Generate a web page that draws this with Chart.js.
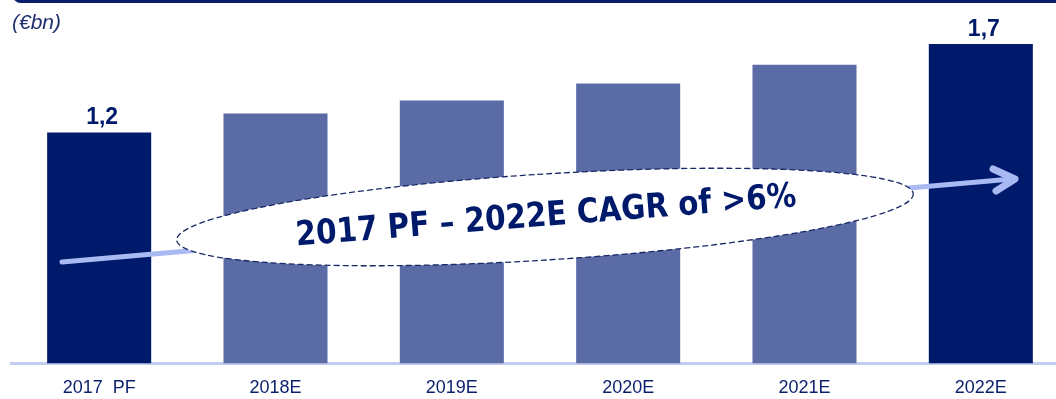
<!DOCTYPE html>
<html>
<head>
<meta charset="utf-8">
<script src="https://cdn.jsdelivr.net/npm/chart.js@4/dist/chart.umd.min.js"></script>
<style>
    body { margin: 0; background: #fff; }
    #wrap { width: 1056px; height: 399px; overflow: hidden; position: relative; }
    canvas { display: block; }
</style>
</head>
<body>
<div id="wrap">
    <canvas id="revenue-chart" width="1080" height="399"></canvas>
</div>
<script>
const categories = ['2017  PF', '2018E', '2019E', '2020E', '2021E', '2022E']
const revenue = [1.23, 1.33, 1.40, 1.49, 1.59, 1.70]
const valueLabels = ['1,2', '', '', '', '', '1,7']
const highlighted = [true, false, false, false, false, true]
const unitLabel = '(€bn)'
const cagrText = '2017 PF – 2022E CAGR of >6%'

const navy = '#001a6b'
const lightBar = '#5b6ba5'

// header rule, unit, value labels, and the CAGR arrow + ellipse
const decorations = {
    id: 'decorations',
    afterDatasetsDraw(chart) {
        const ctx = chart.ctx
        const meta = chart.getDatasetMeta(0)

        ctx.save()
        // value labels above bars
        ctx.fillStyle = navy
        ctx.font = 'bold 23px "Liberation Sans", Arial, sans-serif'
        ctx.textAlign = 'center'
        ctx.textBaseline = 'alphabetic'
        meta.data.forEach(function (bar, i) {
            if (valueLabels[i]) {
                ctx.fillText(valueLabels[i], bar.x + 3, bar.y - 8)
            }
        })

        // arrow
        ctx.strokeStyle = '#a9b9f4'
        ctx.lineCap = 'round'
        ctx.lineJoin = 'round'
        ctx.lineWidth = 5
        ctx.beginPath()
        ctx.moveTo(62, 262)
        ctx.lineTo(1012, 179)
        ctx.stroke()
        ctx.lineWidth = 7
        ctx.beginPath()
        ctx.moveTo(993, 169)
        ctx.lineTo(1015, 179)
        ctx.lineTo(996, 191)
        ctx.stroke()

        // ellipse
        ctx.beginPath()
        ctx.ellipse(545, 217, 369, 43, -3.6 * Math.PI / 180, 0, Math.PI * 2)
        ctx.fillStyle = '#ffffff'
        ctx.fill()
        ctx.setLineDash([5, 4])
        ctx.lineWidth = 1.3
        ctx.strokeStyle = '#1a2a66'
        ctx.stroke()
        ctx.setLineDash([])

        // CAGR text
        ctx.translate(546, 217)
        ctx.rotate(-4.5 * Math.PI / 180)
        ctx.font = 'bold 34px "DejaVu Sans", Verdana, sans-serif'
        const w = ctx.measureText(cagrText).width
        ctx.scale(502 / w, 1)
        ctx.fillStyle = navy
        ctx.textAlign = 'center'
        ctx.textBaseline = 'middle'
        ctx.fillText(cagrText, 0, 0)
        ctx.restore()

        // header rule and unit
        ctx.save()
        ctx.fillStyle = '#0a1e6e'
        ctx.beginPath()
        ctx.roundRect(13, -12, 1100, 15, 9)
        ctx.fill()
        ctx.fillStyle = '#1f2f70'
        ctx.font = 'italic 21px "Liberation Sans", Arial, sans-serif'
        ctx.textAlign = 'left'
        ctx.textBaseline = 'alphabetic'
        ctx.fillText(unitLabel, 12, 29)
        ctx.restore()
    }
}

window.addEventListener('load', function () {
    const canvas = document.getElementById('revenue-chart')
    new Chart(canvas, {
        type: 'bar',
        data: {
            labels: categories,
            datasets: [{
                label: 'Revenue',
                data: revenue,
                backgroundColor: highlighted.map(h => h ? navy : lightBar),
                borderWidth: 0,
                categoryPercentage: 1,
                barPercentage: 0.59
            }]
        },
        options: {
            responsive: false,
            devicePixelRatio: 1,
            animation: false,
            layout: {
                padding: { left: 11, right: 11, top: 6.5, bottom: 0 }
            },
            plugins: {
                legend: { display: false },
                tooltip: { enabled: false }
            },
            scales: {
                y: {
                    display: false,
                    min: 0,
                    max: 1.9
                },
                x: {
                    z: 1,
                    grid: { display: false },
                    border: { display: true, color: '#c3cdf0', width: 3 },
                    ticks: {
                        color: '#0a1f6b',
                        padding: 6,
                        font: { family: '"Liberation Sans", Arial, sans-serif', size: 18 }
                    },
                    afterFit(scale) {
                        scale.height = 35.5
                    }
                }
            }
        },
        plugins: [decorations]
    })
})
</script>
</body>
</html>
